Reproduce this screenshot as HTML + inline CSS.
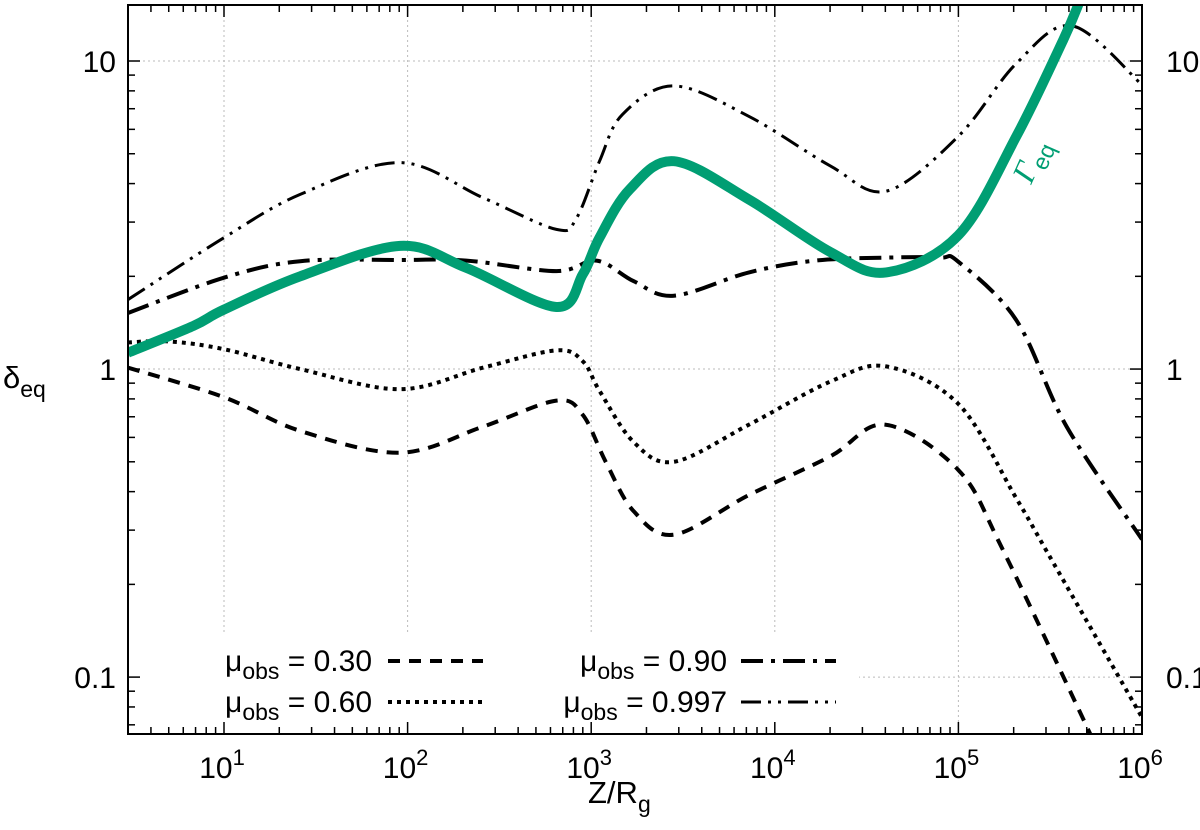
<!DOCTYPE html>
<html><head><meta charset="utf-8"><style>
html,body{margin:0;padding:0;background:#fff;}
svg text{font-family:"Liberation Sans",sans-serif;}
</style></head><body>
<svg id="chart" width="1200" height="825" viewBox="0 0 1200 825" xmlns="http://www.w3.org/2000/svg">
<defs><clipPath id="plotclip"><rect x="128" y="5" width="1014" height="729"/></clipPath></defs>
<g id="grid"></g>
<g id="series" clip-path="url(#plotclip)"></g>
<rect x="131" y="634" width="728" height="98" fill="#fff"/>
<g id="legend"></g>
<g id="axes"></g>
<text transform="translate(1040,165) rotate(-66)" fill="#009e73" font-size="32" text-anchor="middle"><tspan font-family="Liberation Serif, serif" font-style="italic">Γ</tspan><tspan font-size="23" dy="8">eq</tspan></text>
<text x="3" y="388" font-size="31">δ<tspan font-size="23" dy="9">eq</tspan></text>
<text x="588" y="803" font-size="31">Z/R<tspan font-size="23" dy="9">g</tspan></text>
</svg>
<script>
const xTickExps = [1, 2, 3, 4, 5, 6];
const yTickVals = [0.1, 1, 10];
const yTickLabels = ["0.1", "1", "10"];
const gammaZ = [3, 6.8, 10, 26, 91, 209, 646, 900, 1110, 1620, 2820, 7240, 2e4, 4.04e4, 1e5, 2.07e5, 3.72e5, 4.57e5];
const gammaD = [1.13, 1.38, 1.56, 2.0, 2.51, 2.13, 1.59, 2.03, 2.67, 3.83, 4.73, 3.55, 2.4, 2.06, 2.72, 5.7, 11.7, 15.6];
const mu997Z = [3, 10, 26, 91, 257, 646, 832, 1110, 1480, 2820, 7240, 2e4, 4.04e4, 1e5, 2.07e5, 4.17e5, 1e6];
const mu997D = [1.68, 2.67, 3.69, 4.68, 3.6, 2.84, 3.09, 4.73, 6.71, 8.3, 6.61, 4.57, 3.78, 5.7, 9.82, 13.0, 8.37];
const mu90Z = [3, 10, 26, 91, 209, 646, 1070, 1700, 2820, 7240, 1.66e4, 4.04e4, 7.94e4, 1e5, 2.07e5, 3.89e5, 1e6];
const mu90D = [1.52, 1.98, 2.24, 2.26, 2.25, 2.08, 2.25, 1.93, 1.73, 2.06, 2.25, 2.3, 2.3, 2.23, 1.44, 0.65, 0.28];
const mu60Z = [3, 5, 10, 26, 91, 257, 646, 900, 1110, 1700, 2820, 7240, 2e4, 4.04e4, 1e5, 2.07e5, 3.16e5, 1e6];
const mu60D = [1.22, 1.23, 1.16, 1.0, 0.86, 1.01, 1.15, 1.06, 0.85, 0.58, 0.50, 0.66, 0.91, 1.02, 0.77, 0.38, 0.245, 0.074];
const mu30Z = [3, 10, 26, 91, 257, 646, 900, 1200, 1700, 2820, 7240, 2e4, 3.98e4, 1e5, 1.74e5, 5.25e5];
const mu30D = [1.01, 0.81, 0.63, 0.535, 0.65, 0.79, 0.71, 0.5, 0.346, 0.29, 0.39, 0.52, 0.66, 0.47, 0.26, 0.065];

const NS = "http://www.w3.org/2000/svg";
const L = 128, R = 1142, T = 5, B = 734;
const xMinL = Math.log10(3), xMaxL = 6;
const yMinL = -1.1847, yMaxL = 1.1818;
function xs(v){ return L + (Math.log10(v) - xMinL) / (xMaxL - xMinL) * (R - L); }
function ys(v){ return B - (Math.log10(v) - yMinL) / (yMaxL - yMinL) * (B - T); }
function mk(tag, parent, attrs){ const e = document.createElementNS(NS, tag); for (const k in attrs) e.setAttribute(k, attrs[k]); parent.appendChild(e); return e; }

const grid = document.getElementById('grid');
const axes = document.getElementById('axes');
xTickExps.forEach(function(ex){
  const x = xs(Math.pow(10, ex));
  const g = mk('line', grid, {x1:x, x2:x, y1:T, y2:B, stroke:'#bbb', 'stroke-width':1, 'stroke-dasharray':'2 3'});
  
  
});
yTickVals.forEach(function(v){
  const y = ys(v);
  const g = mk('line', grid, {x1:L, x2:R, y1:y, y2:y, stroke:'#bbb', 'stroke-width':1, 'stroke-dasharray':'2 3'});
  
  
});
mk('rect', axes, {x:L, y:T, width:R-L, height:B-T, fill:'none', stroke:'#000', 'stroke-width':2});
for (let e = 0; e <= 6; e++) {
  for (let m = 1; m <= 9; m++) {
    const v = m * Math.pow(10, e);
    if (v < 3 || v > 1e6) continue;
    const x = xs(v); const len = m === 1 ? 12 : 7;
    mk('line', axes, {x1:x, x2:x, y1:B, y2:B-len, stroke:'#000', 'stroke-width':1.5});
    mk('line', axes, {x1:x, x2:x, y1:T, y2:T+len, stroke:'#000', 'stroke-width':1.5});
  }
}
xTickExps.forEach(function(ex){
  const x = xs(Math.pow(10, ex));
  const t = mk('text', axes, {x:x - 2, y:778, 'font-size':30, 'text-anchor':'middle'});
  
  
  t.innerHTML = '10<tspan font-size="22" dy="-13">' + ex + '</tspan>';
});
for (let e = -2; e <= 1; e++) {
  for (let m = 1; m <= 9; m++) {
    const v = m * Math.pow(10, e);
    const y = ys(v);
    if (y < T || y > B) continue;
    const len = m === 1 ? 12 : 7;
    mk('line', axes, {x1:L, x2:L+len, y1:y, y2:y, stroke:'#000', 'stroke-width':1.5});
    mk('line', axes, {x1:R, x2:R-len, y1:y, y2:y, stroke:'#000', 'stroke-width':1.5});
  }
}
yTickVals.forEach(function(v, i){
  const y = ys(v) + 11;
  const t = mk('text', axes, {x:116, y:y, 'font-size':30, 'text-anchor':'end'});
  
  
  t.textContent = yTickLabels[i];
  const t2 = mk('text', axes, {x:1166, y:y, 'font-size':30});
  
  
  t2.textContent = yTickLabels[i];
});

function smoothPath(Z, D){
  const p = Z.map(function(z, i){ return [xs(z), ys(D[i])]; });
  let d = 'M' + p[0][0].toFixed(1) + ',' + p[0][1].toFixed(1);
  for (let i = 0; i < p.length - 1; i++) {
    const p0 = p[i-1] || p[i], p1 = p[i], p2 = p[i+1], p3 = p[i+2] || p2;
    const c1 = [p1[0] + (p2[0]-p0[0])/6, p1[1] + (p2[1]-p0[1])/6];
    const c2 = [p2[0] - (p3[0]-p1[0])/6, p2[1] - (p3[1]-p1[1])/6];
    d += ' C' + c1.map(function(n){return n.toFixed(1);}).join(',') + ' ' + c2.map(function(n){return n.toFixed(1);}).join(',') + ' ' + p2[0].toFixed(1) + ',' + p2[1].toFixed(1);
  }
  return d;
}
const seriesG = document.getElementById('series');
const styles = {
  mu30: {dash:'12 9', w:4},
  mu60: {dash:'4 5', w:4},
  mu90: {dash:'22 8 4 8', w:4},
  mu997: {dash:'20 7 3 7 3 7', w:3},
};
const s1 = mk('path', seriesG, {d:smoothPath(mu30Z, mu30D), fill:'none', stroke:'#000', 'stroke-width':styles.mu30.w, 'stroke-dasharray':styles.mu30.dash});


const s2 = mk('path', seriesG, {d:smoothPath(mu60Z, mu60D), fill:'none', stroke:'#000', 'stroke-width':styles.mu60.w, 'stroke-dasharray':styles.mu60.dash});


const s3 = mk('path', seriesG, {d:smoothPath(mu90Z, mu90D), fill:'none', stroke:'#000', 'stroke-width':styles.mu90.w, 'stroke-dasharray':styles.mu90.dash});


const s4 = mk('path', seriesG, {d:smoothPath(mu997Z, mu997D), fill:'none', stroke:'#000', 'stroke-width':styles.mu997.w, 'stroke-dasharray':styles.mu997.dash});


const s5 = mk('path', seriesG, {d:smoothPath(gammaZ, gammaD), fill:'none', stroke:'#009e73', 'stroke-width':10, 'stroke-linejoin':'round'});



const leg = document.getElementById('legend');
const legItems = [
  {label:'0.30', st:styles.mu30, tx:372, lx:388, y:661},
  {label:'0.60', st:styles.mu60, tx:372, lx:388, y:702},
  {label:'0.90', st:styles.mu90, tx:727, lx:741, y:661},
  {label:'0.997', st:styles.mu997, tx:727, lx:741, y:702},
];
legItems.forEach(function(it){
  const t = mk('text', leg, {x:it.tx, y:it.y + 10, 'font-size':30, 'text-anchor':'end'});
  
  
  t.innerHTML = 'μ<tspan font-size="23" dy="8">obs</tspan><tspan dy="-8"> = ' + it.label + '</tspan>';
  const l = mk('line', leg, {x1:it.lx, x2:it.lx + 95, y1:it.y, y2:it.y, stroke:'#000', 'stroke-width':it.st.w, 'stroke-dasharray':it.st.dash});
  
  
});
</script>
</body></html>
